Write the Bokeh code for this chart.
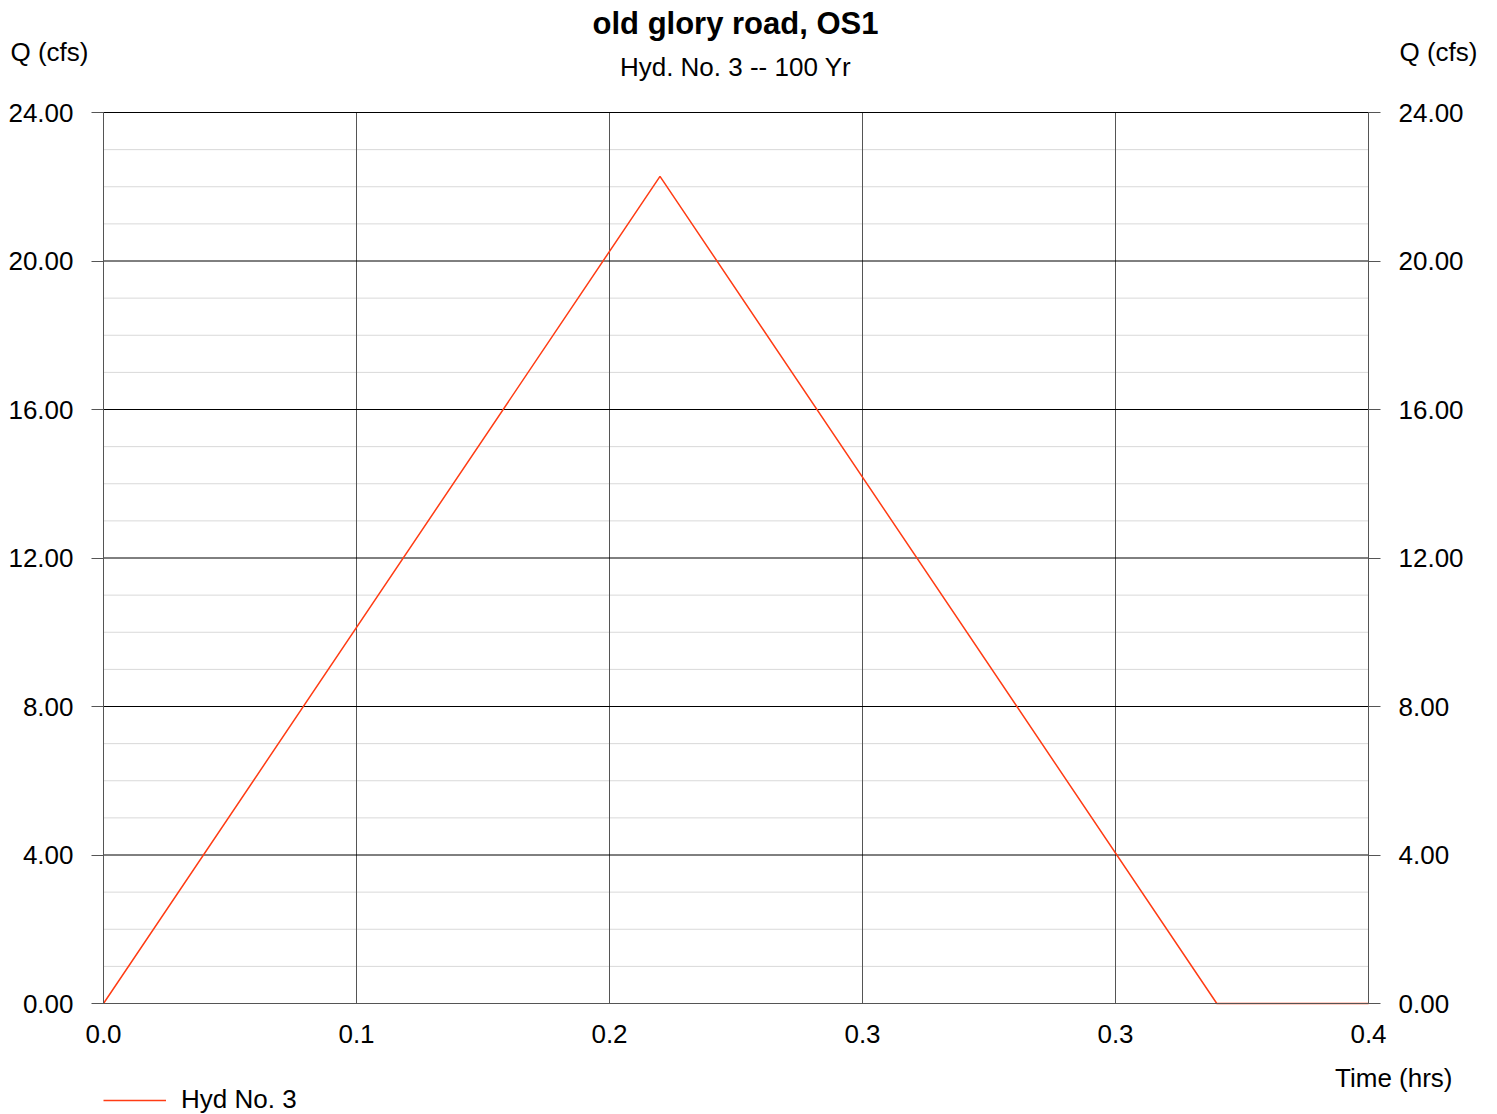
from bokeh.plotting import figure
from bokeh.models import (Range1d, LinearAxis, FixedTicker, PrintfTickFormatter,
                          Label, Legend, LegendItem)
from bokeh.embed import file_html
from bokeh.resources import INLINE

# ---- data ----
time_hrs = [0.0, 0.1833, 0.3667, 0.4167]
q_cfs = [0.0, 22.28, 0.0, 0.0]
x_ticks = [0.0, 5 / 60, 10 / 60, 15 / 60, 20 / 60, 25 / 60]
x_tick_labels = ["0.0", "0.1", "0.2", "0.3", "0.3", "0.4"]
y_ticks = [0, 4, 8, 12, 16, 20, 24]
y_minor = [1, 2, 3, 5, 6, 7, 9, 10, 11, 13, 14, 15, 17, 18, 19, 21, 22, 23]
title_text = "old glory road, OS1"
subtitle_text = "Hyd. No. 3 -- 100 Yr"
y_label = "Q (cfs)"
x_label = "Time (hrs)"
series_name = "Hyd No. 3"

RED = "#FF3C14"
AX = "#555555"
FONT = "Liberation Sans"

W, H = 1497, 1114
# plot-area edges in canvas pixels
L, R, T, B = 103, 1368, 112, 1003
XMAX, YMAX = x_ticks[-1], y_ticks[-1]


def xd(px):  # canvas pixel -> data x
    return (px - L) / (R - L) * XMAX


def yd(py):  # canvas pixel -> data y
    return (B - py) / (B - T) * YMAX


p = figure(width=W, height=H,
           x_range=Range1d(xd(0), xd(W)), y_range=Range1d(yd(H), yd(0)),
           output_backend="svg", toolbar_location=None, title=None,
           min_border=0, min_border_left=0, min_border_right=0,
           min_border_top=0, min_border_bottom=0)
p.outline_line_color = None
p.background_fill_color = "white"
p.border_fill_color = "white"
p.grid.visible = False

# ---- grid lines (from tick arrays) ----
p.segment(x0=[0.0] * len(y_minor), y0=y_minor, x1=[XMAX] * len(y_minor), y1=y_minor,
          line_color="#d9d9d9", line_width=1)
p.segment(x0=x_ticks, y0=[0] * len(x_ticks), x1=x_ticks, y1=[YMAX] * len(x_ticks),
          line_color=AX, line_width=1)
p.segment(x0=[0.0] * len(y_ticks), y0=y_ticks, x1=[XMAX] * len(y_ticks), y1=y_ticks,
          line_color="black", line_width=1)

# ---- x axis ----
xa = p.xaxis[0]
xa.fixed_location = 0
xa.bounds = (0, XMAX)
xa.ticker = FixedTicker(ticks=x_ticks)
xa.major_label_overrides = {t: s for t, s in zip(x_ticks, x_tick_labels)}
xa.major_tick_out = 0
xa.major_tick_in = 0
xa.minor_tick_line_color = None
xa.axis_line_color = AX
xa.major_label_standoff = 21
xa.major_label_text_font = FONT
xa.major_label_text_font_size = "26px"
xa.major_label_text_color = "black"


def style_y(ax):
    ax.bounds = (0, YMAX)
    ax.ticker = FixedTicker(ticks=y_ticks, minor_ticks=y_minor)
    ax.formatter = PrintfTickFormatter(format="%.2f")
    ax.major_tick_out = 12
    ax.major_tick_in = 0
    ax.minor_tick_line_color = None
    ax.axis_line_color = AX
    ax.major_tick_line_color = AX
    ax.major_label_standoff = 18
    ax.major_label_text_font = FONT
    ax.major_label_text_font_size = "26px"
    ax.major_label_text_color = "black"


ya = p.yaxis[0]
ya.fixed_location = 0
style_y(ya)
ra = LinearAxis(fixed_location=XMAX)
style_y(ra)
p.add_layout(ra, "right")

# ---- series ----
r = p.line(time_hrs, q_cfs, line_color=RED, line_width=1.5)

# ---- legend ----
leg = Legend(items=[LegendItem(label=series_name, renderers=[r])],
             location=(L, -1), glyph_width=63, glyph_height=30, label_height=30,
             label_standoff=15, padding=0, spacing=0, margin=0,
             border_line_color=None, background_fill_alpha=0,
             label_text_font=FONT, label_text_font_size="26px",
             label_text_color="black")
p.add_layout(leg)


# ---- texts ----
def lab(px, py, text, align, size="26px", style="normal"):
    p.add_layout(Label(x=xd(px), y=yd(py), text=text, text_align=align,
                       text_baseline="alphabetic", text_font=FONT,
                       text_font_size=size, text_font_style=style,
                       text_color="black"))


lab(735, 23, title_text, "center", "31px", "bold")
lab(735, 66, subtitle_text, "center")
lab(10, 51, y_label, "left")
lab(1477, 51, y_label, "right")
lab(1452, 1077, x_label, "right")

open("out.html", "w").write(file_html(p, INLINE))
